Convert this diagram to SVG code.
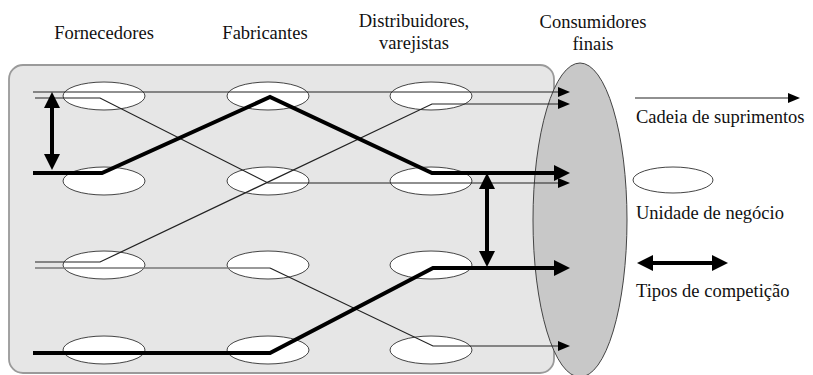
<svg xmlns="http://www.w3.org/2000/svg" width="813" height="375" viewBox="0 0 813 375">
<style>
text{font-family:"Liberation Serif","Times New Roman","DejaVu Serif",serif;font-size:18.5px;fill:#111}
.unit{fill:#fff;stroke:#444;stroke-width:1}
.thin{fill:none;stroke:#222;stroke-width:1.2}
.gray{fill:none;stroke:#777;stroke-width:1.3}
.thick{fill:none;stroke:#000;stroke-width:4}
</style>
<defs>
<marker id="ah" markerUnits="userSpaceOnUse" markerWidth="12" markerHeight="10" refX="1" refY="5" orient="auto"><path d="M0,0L12,5L0,10Z" fill="#000"/></marker>
<marker id="ahT" markerUnits="userSpaceOnUse" markerWidth="16" markerHeight="16" refX="1" refY="8" orient="auto-start-reverse"><path d="M0,0L16,8L0,16Z" fill="#000"/></marker>
</defs>
<rect x="9" y="65" width="545" height="308" rx="14" fill="#e6e6e6" stroke="#9a9a9a" stroke-width="1.8"/>
<g id="consumidores"><ellipse cx="580" cy="220" rx="47" ry="157" fill="#c8c8c8" stroke="#444" stroke-width="1"/></g>
<g id="labels">
<text x="104" y="39" text-anchor="middle">Fornecedores</text>
<text x="265" y="39" text-anchor="middle">Fabricantes</text>
<text x="414" y="27" text-anchor="middle">Distribuidores,</text>
<text x="414" y="49" text-anchor="middle">varejistas</text>
<text x="593" y="28" text-anchor="middle">Consumidores</text>
<text x="593" y="50" text-anchor="middle">finais</text>
</g>
<g id="f1"><ellipse class="unit" cx="104" cy="96" rx="41" ry="14"/></g>
<g id="f2"><ellipse class="unit" cx="104" cy="181" rx="41" ry="14"/></g>
<g id="f3"><ellipse class="unit" cx="104" cy="265" rx="41" ry="14"/></g>
<g id="f4"><ellipse class="unit" cx="104" cy="350" rx="41" ry="14"/></g>
<g id="m1"><ellipse class="unit" cx="268" cy="96" rx="41" ry="14"/></g>
<g id="m2"><ellipse class="unit" cx="268" cy="181" rx="41" ry="14"/></g>
<g id="m3"><ellipse class="unit" cx="268" cy="265" rx="41" ry="14"/></g>
<g id="m4"><ellipse class="unit" cx="268" cy="350" rx="41" ry="14"/></g>
<g id="d1"><ellipse class="unit" cx="431" cy="96" rx="41" ry="14"/></g>
<g id="d2"><ellipse class="unit" cx="431" cy="181" rx="41" ry="14"/></g>
<g id="d3"><ellipse class="unit" cx="431" cy="265" rx="41" ry="14"/></g>
<g id="d4"><ellipse class="unit" cx="431" cy="350" rx="41" ry="14"/></g>
<g id="connectors">
<path class="thin" d="M33,92H559" marker-end="url(#ah)"/>
<path class="thin" d="M35,98H100L268,183H559" marker-end="url(#ah)"/>
<path class="thin" d="M35,262H100L432,104H559" marker-end="url(#ah)"/>
<path class="gray" d="M35,268H270"/>
<path class="thin" d="M270,268L433,346H559" marker-end="url(#ah)"/>
<path class="thick" d="M33,173H102L270,97L432,173H555" marker-end="url(#ahT)"/>
<path class="thick" d="M33,353H270L433,268H555" marker-end="url(#ahT)"/>
<path class="thick" d="M52,107V155" marker-start="url(#ahT)" marker-end="url(#ahT)"/>
<path class="thick" d="M487,188V252" marker-start="url(#ahT)" marker-end="url(#ahT)"/>
</g>
<g id="legend">
<path class="thin" d="M635,98H789" marker-end="url(#ah)"/>
<text x="636" y="123">Cadeia de suprimentos</text>
<ellipse class="unit" cx="673" cy="180" rx="40" ry="13"/>
<text x="636" y="219">Unidade de negócio</text>
<path class="thick" d="M652,263H713" marker-start="url(#ahT)" marker-end="url(#ahT)"/>
<text x="636" y="297">Tipos de competição</text>
</g>
</svg>
